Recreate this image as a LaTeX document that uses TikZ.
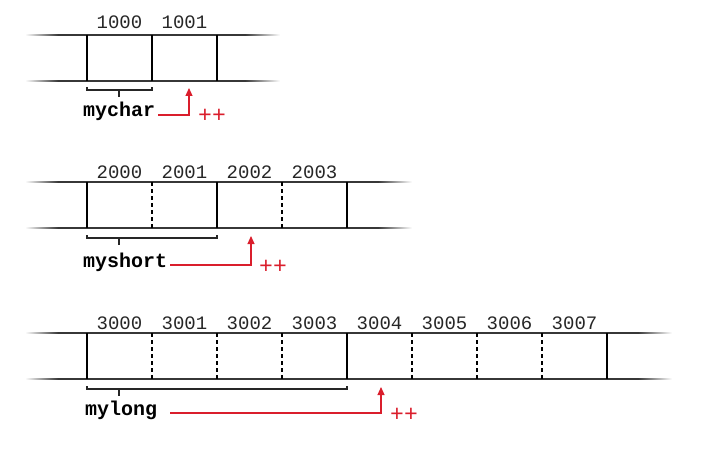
\documentclass[tikz,border=0pt]{standalone}
\usepackage{fontspec}
\setmonofont{Liberation Mono}
\usepackage{tikz}
\usetikzlibrary{
  arrows.meta,
  positioning
}
\definecolor{ptrred}{RGB}{218, 30, 44}
\definecolor{railgray}{RGB}{55, 55, 55}

\begin{document}
\begin{tikzpicture}[
  x=1pt, y=-1pt,
  rail/.style={railgray, line width=1.8pt},
  cell/.style={black, line width=1.4pt},
  byte/.style={black, line width=1.2pt, dash pattern=on 4pt off 3pt},
  brace/.style={black!85, line width=1.1pt},
  ptr/.style={ptrred, line width=1.1pt, -{Triangle[width=7pt,length=8pt]}},
  addr/.style={font=\fontsize{19}{19}\selectfont\ttfamily, text=black!85, inner sep=0pt, anchor=base},
  var/.style={font=\fontsize{20}{20}\selectfont\ttfamily\bfseries, anchor=base west, inner sep=3pt},
  inc/.style={font=\fontsize{23}{23}\selectfont\ttfamily, text=ptrred, inner sep=0pt}
]
\useasboundingbox (0,0) rectangle (708,449);

% Row 1 - char pointer
\shade[left color=white, right color=railgray] (25,34.1) rectangle (58,35.9) (25,80.1) rectangle (58,81.9);
\draw[rail] (58,35) -- (245,35) (58,81) -- (245,81);
\shade[left color=railgray, right color=white] (245,34.1) rectangle (280,35.9) (245,80.1) rectangle (280,81.9);
\draw[cell] (87,35) -- (87,81) (152,35) -- (152,81) (217,35) -- (217,81);
\node[addr] (a1000) at (119.5,29) {1000};
\node[addr] (a1001) at (184.5,29) {1001};
\draw[brace] (87,87) -- (87,90) -- (152,90) -- (152,87) (119,90) -- (119,97);
\node[var] (mychar) at (80,117) {mychar};
\coordinate (next1) at (189,88);
\draw[ptr] ([yshift=2pt]mychar.base east) -| (next1);
\node[inc] (inc1) at (212,116) {++};

% Row 2 - short pointer
\shade[left color=white, right color=railgray] (25,181.1) rectangle (58,182.9) (25,227.1) rectangle (58,228.9);
\draw[rail] (58,182) -- (378,182) (58,228) -- (378,228);
\shade[left color=railgray, right color=white] (378,181.1) rectangle (412,182.9) (378,227.1) rectangle (412,228.9);
\draw[cell] (87,182) -- (87,228) (217,182) -- (217,228) (347,182) -- (347,228);
\draw[byte] (152,182) -- (152,228) (282,182) -- (282,228);
\node[addr] (a2000) at (119.5,178) {2000};
\node[addr] (a2001) at (184.5,178) {2001};
\node[addr] (a2002) at (249.5,178) {2002};
\node[addr] (a2003) at (314.5,178) {2003};
\draw[brace] (87,235) -- (87,238) -- (217,238) -- (217,235) (119,238) -- (119,245);
\node[var] (myshort) at (80,267) {myshort};
\coordinate (next2) at (251,236);
\draw[ptr] ([yshift=2pt]myshort.base east) -| (next2);
\node[inc] (inc2) at (273,267) {++};

% Row 3 - long pointer
\shade[left color=white, right color=railgray] (25,332.1) rectangle (58,333.9) (25,378.1) rectangle (58,379.9);
\draw[rail] (58,333) -- (638,333) (58,379) -- (638,379);
\shade[left color=railgray, right color=white] (638,332.1) rectangle (672,333.9) (638,378.1) rectangle (672,379.9);
\draw[cell] (87,333) -- (87,379) (347,333) -- (347,379) (607,333) -- (607,379);
\draw[byte] (152,333) -- (152,379) (217,333) -- (217,379) (282,333) -- (282,379)
  (412,333) -- (412,379) (477,333) -- (477,379) (542,333) -- (542,379);
\node[addr] (a3000) at (119.5,329) {3000};
\node[addr] (a3001) at (184.5,329) {3001};
\node[addr] (a3002) at (249.5,329) {3002};
\node[addr] (a3003) at (314.5,329) {3003};
\node[addr] (a3004) at (379.5,329) {3004};
\node[addr] (a3005) at (444.5,329) {3005};
\node[addr] (a3006) at (509.5,329) {3006};
\node[addr] (a3007) at (574.5,329) {3007};
\draw[brace] (87,386) -- (87,389) -- (347,389) -- (347,386) (119,389) -- (119,396);
\node[var] (mylong) at (82,415) {mylong};
\coordinate (next3) at (381,387);
\draw[ptr] ([xshift=10pt, yshift=2pt]mylong.base east) -| (next3);
\node[inc] (inc3) at (404,415) {++};

\end{tikzpicture}
\end{document}
